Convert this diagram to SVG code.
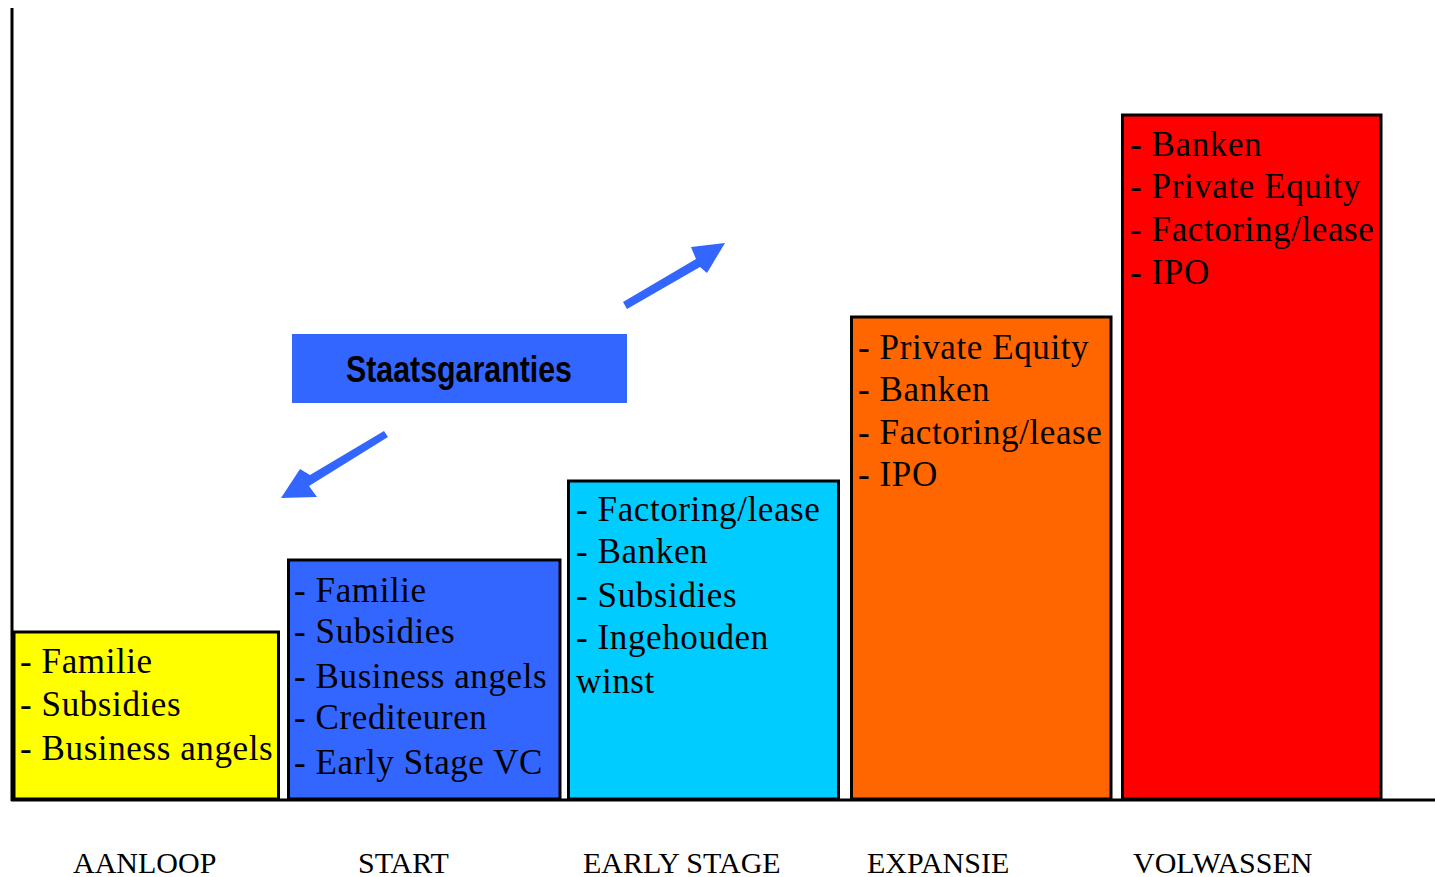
<svg xmlns="http://www.w3.org/2000/svg" width="1435" height="877" viewBox="0 0 1435 877">
<style>
.box{stroke:#000;stroke-width:3}
.t{font-family:"Liberation Serif","Times New Roman",serif;font-size:35px;fill:#000;letter-spacing:0.6px}
.lab{font-family:"Liberation Serif","Times New Roman",serif;font-size:30px;fill:#000}
.arrow{fill:#3366FF}
</style>
<rect width="1435" height="877" fill="#fff"/>
<g id="axes">
<line x1="12" y1="8" x2="12" y2="801" stroke="#000" stroke-width="3"/>
<line x1="11" y1="800" x2="1435" y2="800" stroke="#000" stroke-width="3"/>
</g>
<g id="aanloop">
<rect class="box" x="14" y="632" width="264.5" height="167" fill="#FFFF00"/>
<text class="t" x="20" y="673">- Familie</text>
<text class="t" x="20" y="716">- Subsidies</text>
<text class="t" x="20" y="760">- Business angels</text>
</g>
<g id="start">
<rect class="box" x="288.5" y="560" width="271.5" height="239" fill="#3366FF"/>
<text class="t" x="294" y="602">- Familie</text>
<text class="t" x="294" y="643">- Subsidies</text>
<text class="t" x="294" y="688">- Business angels</text>
<text class="t" x="294" y="729">- Crediteuren</text>
<text class="t" x="294" y="774">- Early Stage VC</text>
</g>
<g id="early">
<rect class="box" x="568.5" y="481" width="270" height="318" fill="#00CCFF"/>
<text class="t" x="576" y="521">- Factoring/lease</text>
<text class="t" x="576" y="563">- Banken</text>
<text class="t" x="576" y="607">- Subsidies</text>
<text class="t" x="576" y="649">- Ingehouden</text>
<text class="t" x="576" y="693">winst</text>
</g>
<g id="expansie">
<rect class="box" x="851.5" y="317" width="259.5" height="482" fill="#FF6600"/>
<text class="t" x="858" y="359">- Private Equity</text>
<text class="t" x="858" y="401">- Banken</text>
<text class="t" x="858" y="444">- Factoring/lease</text>
<text class="t" x="858" y="486">- IPO</text>
</g>
<g id="volwassen">
<rect class="box" x="1122.5" y="115" width="258.5" height="684" fill="#FF0000"/>
<text class="t" x="1130" y="156">- Banken</text>
<text class="t" x="1130" y="198">- Private Equity</text>
<text class="t" x="1130" y="241">- Factoring/lease</text>
<text class="t" x="1130" y="284">- IPO</text>
</g>
<g id="staatsgaranties">
<rect x="292" y="334" width="335" height="69" fill="#3366FF"/>
<text x="346" y="382" font-family="'Liberation Sans Narrow','Liberation Sans',Arial,sans-serif" font-weight="bold" font-size="37" textLength="226" lengthAdjust="spacingAndGlyphs">Staatsgaranties</text>
</g>
<g id="connectors">
<polygon class="arrow" points="623,302 627,309 700,267 707,273 725,243 691,247 696,259"/>
<polygon class="arrow" points="388,437 384,431 310,475 300,469 281,498 317,497 309,486"/>
</g>
<g id="labels">
<text class="lab" x="73" y="873">AANLOOP</text>
<text class="lab" x="358" y="873">START</text>
<text class="lab" x="583" y="873">EARLY STAGE</text>
<text class="lab" x="867" y="873">EXPANSIE</text>
<text class="lab" x="1133" y="873">VOLWASSEN</text>
</g>
</svg>
